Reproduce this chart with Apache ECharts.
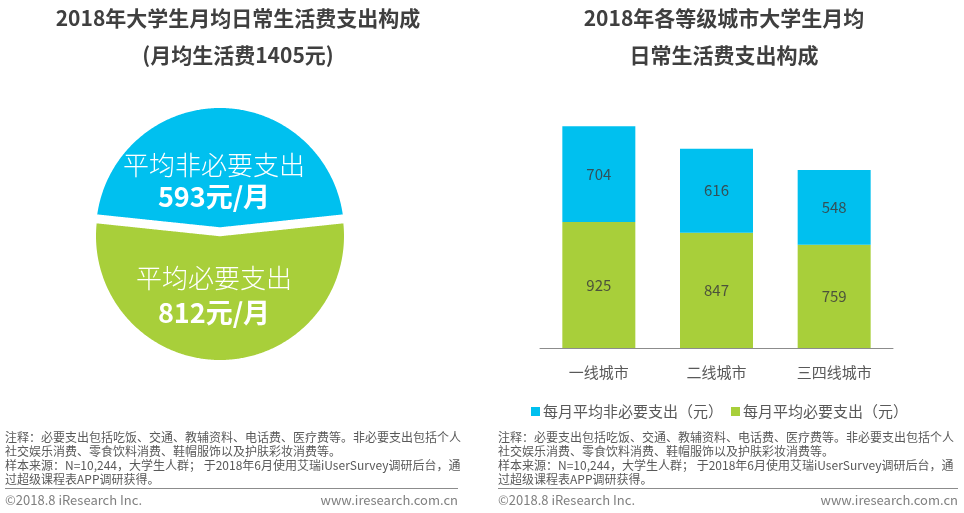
<!DOCTYPE html>
<html>
<head>
<meta charset="utf-8">
<script src="https://cdn.jsdelivr.net/npm/echarts@6/dist/echarts.min.js"></script>
<style>
  html, body { margin: 0; padding: 0; background: #fff; }
  #chart { width: 964px; height: 513px; }
</style>
</head>
<body>
<div id="chart"></div>
<script>
// 左图：月均日常生活费构成
var pieNames = ['平均非必要支出', '平均必要支出'];
var pieValues = [593, 812];
var pieColors = ['#00c0ef', '#a8cf3a'];

// 右图：各等级城市
var cities = ['一线城市', '二线城市', '三四线城市'];
var needValues = [925, 847, 759];      // 必要支出
var optionalValues = [704, 616, 548];  // 非必要支出
var legendNames = ['每月平均非必要支出（元）', '每月平均必要支出（元）'];

var noteLines = [
  '注释：必要支出包括吃饭、交通、教辅资料、电话费、医疗费等。非必要支出包括个人',
  '社交娱乐消费、零食饮料消费、鞋帽服饰以及护肤彩妆消费等。',
  '样本来源：N=10,244，大学生人群； 于2018年6月使用艾瑞iUserSurvey调研后台，通',
  '过超级课程表APP调研获得。'
];

var FONT = '"Noto Sans CJK SC", "Microsoft YaHei", sans-serif';

var chart = echarts.init(document.getElementById('chart'));

// 圆被一条 V 形白缝分成上下两块，分割位置按数值占比
function renderCircle(params, api) {
  var idx = params.dataIndex;
  var cx = 220, cy = 234, r = 124, gap = 2.5, dip = 13, shift = 2;
  var total = pieValues[0] + pieValues[1];
  var c = 2 * Math.PI * pieValues[0] / total;
  var th = Math.PI;
  for (var i = 0; i < 40; i++) {
    th = th - (th - Math.sin(th) - c) / (1 - Math.cos(th));
  }
  var base = cy - r * Math.cos(th / 2);
  function cut(x) {
    return base + dip * (1 - Math.min(1, Math.abs(x - cx) / r));
  }
  var pts = [];
  for (var k = 0; k < 720; k++) {
    var a = Math.PI * 2 * k / 720;
    var x = cx + r * Math.cos(a);
    var y = cy + r * Math.sin(a);
    if (idx === 0) y = Math.min(y, cut(x) - gap) - shift;
    else y = Math.max(y, cut(x) + gap) + shift;
    pts.push([x, y]);
  }
  var y1 = idx === 0 ? cy - 69 : cy + 44;
  var y2 = idx === 0 ? cy - 37 : cy + 79;
  return {
    type: 'group',
    children: [
      { type: 'polygon', shape: { points: pts }, style: { fill: pieColors[idx] } },
      { type: 'text', style: {
          text: pieNames[idx], x: cx - 6, y: y1, align: 'center', verticalAlign: 'middle',
          fill: '#fff', font: '300 26px ' + FONT } },
      { type: 'text', style: {
          text: api.value(0) + '元/月', x: cx - 6, y: y2, align: 'center', verticalAlign: 'middle',
          fill: '#fff', font: 'bold 27px ' + FONT } }
    ]
  };
}

function footer(x0, x1) {
  return [
    { type: 'text', left: x0, top: 430, style: {
        text: noteLines.join('\n'), fill: '#595959', font: '12px ' + FONT, lineHeight: 14 } },
    { type: 'line', shape: { x1: x0, y1: 488.5, x2: x1, y2: 488.5 }, style: { stroke: '#8c8c8c', lineWidth: 1 } },
    { type: 'text', left: x0, top: 494, style: {
        text: '©2018.8 iResearch Inc.', fill: '#7f7f7f', font: '13px ' + FONT } },
    { type: 'text', right: 964 - x1, top: 494, style: {
        text: 'www.iresearch.com.cn', fill: '#7f7f7f', font: '13px ' + FONT } }
  ];
}

chart.setOption({
  animation: false,
  textStyle: { fontFamily: FONT },
  title: [
    {
      text: '2018年大学生月均日常生活费支出构成\n(月均生活费1405元)',
      left: 238, top: 0, textAlign: 'center', padding: 0,
      textStyle: { fontSize: 21, fontWeight: 'bold', color: '#3f3f3f', lineHeight: 37 }
    },
    {
      text: '2018年各等级城市大学生月均\n日常生活费支出构成',
      left: 724, top: 0, textAlign: 'center', padding: 0,
      textStyle: { fontSize: 21, fontWeight: 'bold', color: '#3f3f3f', lineHeight: 37 }
    }
  ],
  legend: {
    data: legendNames,
    left: 526, top: 399,
    itemWidth: 9, itemHeight: 9, itemGap: 8,
    icon: 'rect',
    textStyle: { fontSize: 15, color: '#595959', padding: [0, 0, 0, -2] }
  },
  grid: { left: 540, right: 71, top: 103, bottom: 165 },
  xAxis: {
    type: 'category',
    data: cities,
    axisLine: { lineStyle: { color: '#8c8c8c', width: 1 } },
    axisTick: { show: false },
    axisLabel: { fontSize: 15, color: '#595959', margin: 17 }
  },
  yAxis: { type: 'value', min: 0, max: 1800, show: false, splitLine: { show: false } },
  series: [
    {
      type: 'custom',
      coordinateSystem: 'none',
      renderItem: renderCircle,
      data: pieValues
    },
    {
      name: legendNames[1], type: 'bar', stack: 'city', barWidth: 73,
      data: needValues, itemStyle: { color: pieColors[1] },
      label: { show: true, position: 'inside', fontSize: 15, color: 'rgba(60,60,60,0.85)' }
    },
    {
      name: legendNames[0], type: 'bar', stack: 'city', barWidth: 73,
      data: optionalValues, itemStyle: { color: pieColors[0] },
      label: { show: true, position: 'inside', fontSize: 15, color: 'rgba(60,60,60,0.85)' }
    }
  ],
  graphic: footer(5, 458).concat(footer(498, 958))
});
</script>
</body>
</html>
